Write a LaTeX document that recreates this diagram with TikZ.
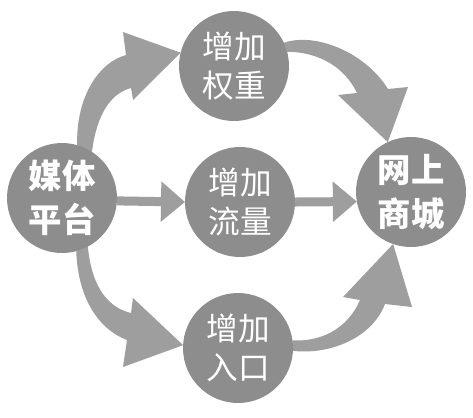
\documentclass[tikz,border=0pt]{standalone}
\usepackage{fontspec}
\newfontfamily\cjk{Noto Sans CJK SC}
\usetikzlibrary{arrows.meta,backgrounds}
\definecolor{ballgray}{RGB}{141,141,141}
\definecolor{arrowgray}{RGB}{158,158,158}
\begin{document}
\begin{tikzpicture}[x=0.02cm,y=-0.02cm,
    ball/.style={circle,fill=ballgray,minimum size=2.2cm,inner sep=0pt,outer sep=0pt,
      text=white,align=center,font=\cjk\fontsize{18}{22}\selectfont},
    hub/.style={ball,font=\cjk\bfseries\fontsize{19}{25}\selectfont},
    flat/.style={draw=arrowgray,line width=0.18cm,-{Triangle[length=0.48cm,width=0.78cm]}},
    bent/.style={fill=arrowgray}]
  \useasboundingbox (0,0) rectangle (473,417);
  \node [hub] (media) at (62,198) {媒体\\平台};
  \node [ball] (weight) at (234,66) {增加\\权重};
  \node [ball] (flow) at (240,202) {增加\\流量};
  \node [ball] (entry) at (238,348) {增加\\入口};
  \node [hub] (mall) at (411,192) {网上\\商城};
  \draw [flat] (media.-3) -- (flow.west);
  \draw [flat] (flow.east) -- (mall.190);
  \begin{scope}[on background layer]
    \fill [white] (0,0) rectangle (473,417);
    \fill [bent] (media.74) .. controls (76,95) and (100,62) .. (126,55) -- (123,32)
      -- (weight.166) -- (133,100) -- (131,88) .. controls (112,93) and (97,112) .. (media.57) -- cycle;
    \fill [bent] (media.-75) .. controls (78,300) and (100,330) .. (127,340) -- (123,367)
      -- (entry.177) -- (133,298) -- (131,313) .. controls (110,308) and (92,290) .. (media.-62) -- cycle;
    \fill [bent] (weight.25) .. controls (315,32) and (365,52) .. (388,89) -- (408,87)
      -- (mall.115) -- (338,95) -- (357,93) .. controls (345,68) and (320,52) .. (weight.15) -- cycle;
    \fill [bent] (entry.-3) .. controls (330,355) and (372,338) .. (385,304) -- (412,307)
      -- (mall.251) -- (343,297) -- (360,300) .. controls (348,328) and (322,342) .. (entry.8) -- cycle;
  \end{scope}
\end{tikzpicture}
\end{document}
